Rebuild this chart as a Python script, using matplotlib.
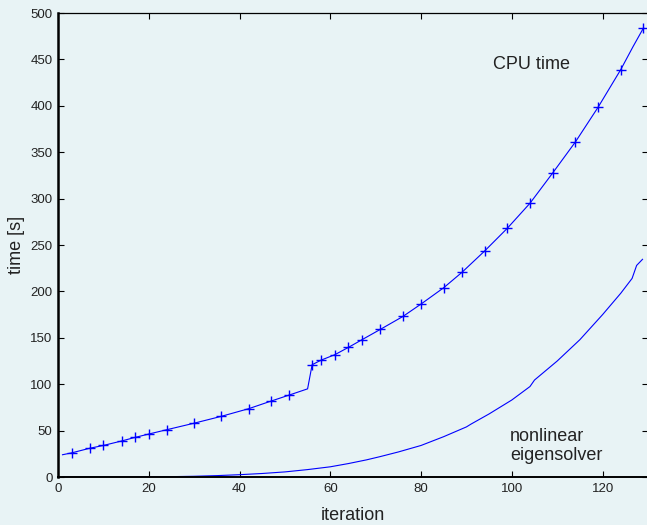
import numpy as np
import matplotlib
matplotlib.use("Agg")
from matplotlib import pyplot as plt

# CPU time: full curve (iteration, seconds) and the marked iterations
cpu_iter = [1, 3, 7, 10, 14, 17, 20, 24, 30, 36, 42, 47, 51, 55,
            56, 58, 61, 64, 67, 71, 76, 80, 85, 89, 94, 99, 104, 109,
            114, 119, 124, 126.7, 129]
cpu_time = [24, 26, 31, 34, 38.8, 42.7, 46.3, 51, 58, 65.4, 73.6, 81.9, 88.4, 95,
            121, 126, 131.8, 139.7, 148, 159, 173, 186.4, 204, 220.5, 243.5, 268, 295, 327.6,
            361, 398.4, 439, 463.7, 483.8]
mark_iter = [3, 7, 10, 14, 17, 20, 24, 30, 36, 42, 47, 51,
             56, 58, 61, 64, 67, 71, 76, 80, 85, 89, 94, 99, 104, 109,
             114, 119, 124, 129]
mark_time = [26, 31, 34, 38.8, 42.7, 46.3, 51, 58, 65.4, 73.6, 81.9, 88.4,
             121, 126, 131.8, 139.7, 148, 159, 173, 186.4, 204, 220.5, 243.5, 268, 295, 327.6,
             361, 398.4, 439, 483.8]

# time spent in the nonlinear eigensolver
eig_iter = [1, 10, 20, 25, 30, 35, 40, 45, 50, 55, 60, 64, 68, 71, 75, 80, 85, 90, 91,
            95, 100, 104, 105, 110, 115, 120, 124, 126.5, 127.5, 128.8]
eig_time = [0, 0, 0.2, 0.4, 0.8, 1.5, 2.5, 3.8, 5.5, 8, 11, 14.5, 18.5, 22, 27, 34, 43.5, 54, 57,
            68, 83, 97.5, 104.5, 125, 148, 175, 198, 214, 228, 234.6]

bg = "#e8f3f5"
blue = "#0000ff"
plt.rcParams["font.family"] = ["Liberation Sans", "DejaVu Sans"]

fig = plt.figure(figsize=(6.47, 5.25), dpi=100, facecolor=bg)
ax = fig.add_axes([0.0896, 0.0914, 0.9119, 0.8838], facecolor=bg)

ax.plot(cpu_iter, cpu_time, color=blue, lw=0.8)
ax.plot(mark_iter, mark_time, ls="none", marker="+", ms=7, mew=1.0, color=blue)
ax.plot(eig_iter, eig_time, color=blue, lw=0.8)

ax.set_xlim(0, 130)
ax.set_ylim(0, 500)
ax.set_xticks(np.arange(0, 121, 20))
ax.set_yticks(np.arange(0, 501, 50))
ax.tick_params(direction="in", top=True, right=True, length=4, width=0.8,
               labelsize=9.5, pad=4, colors="black", labelcolor="#222222")

ax.spines["left"].set_linewidth(1.8)
ax.spines["bottom"].set_linewidth(1.4)
ax.spines["top"].set_linewidth(0.9)
ax.spines["right"].set_linewidth(0.9)

ax.set_xlabel("iteration", fontsize=13, color="#222222", labelpad=9)
ax.set_ylabel("time [s]", fontsize=13, color="#222222", labelpad=4)

ax.text(95.8, 444, "CPU time", fontsize=13, color="#222222", va="center", ha="left")
ax.text(99.6, 33, "nonlinear\neigensolver", fontsize=13, color="#222222",
        va="center", ha="left", linespacing=1.15)

fig.savefig("out.png", dpi=100, facecolor=bg)
